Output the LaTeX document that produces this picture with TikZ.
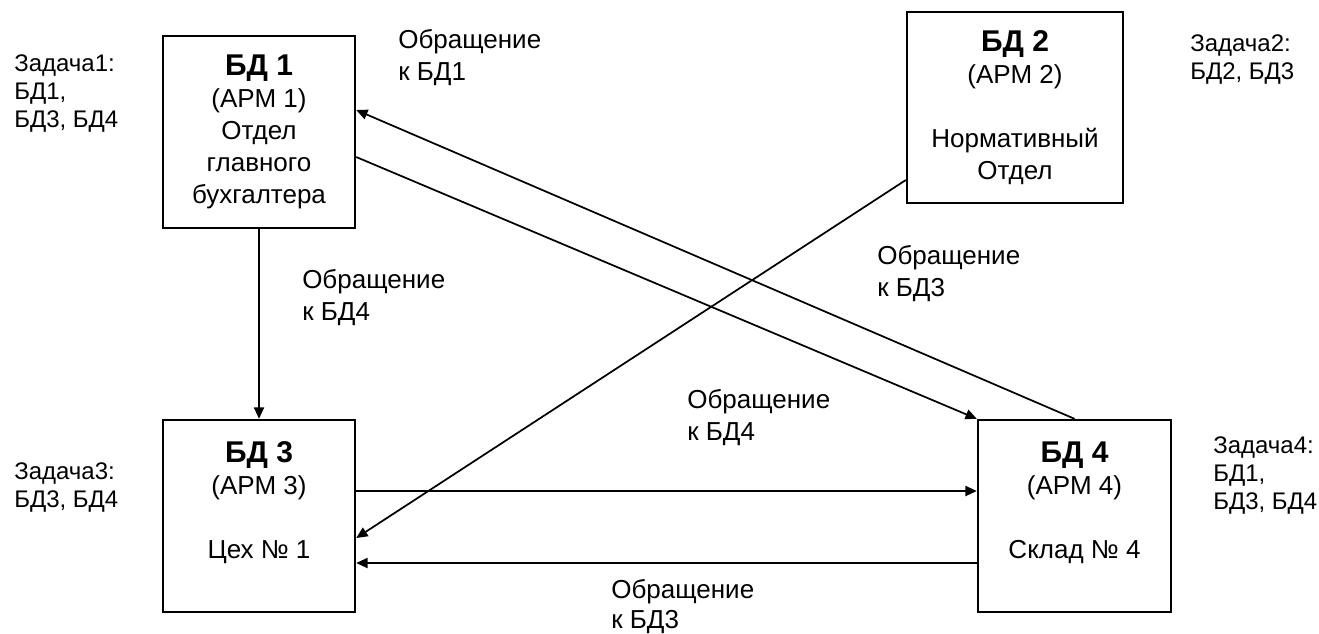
\documentclass[tikz,border=0pt]{standalone}
\usepackage{fontspec}
\setmainfont{Liberation Sans}
\usetikzlibrary{arrows.meta}
\newcommand\dbtitle[1]{{\fontsize{22.5}{24}\selectfont\bfseries #1}}
\begin{document}
\begin{tikzpicture}[x=0.75pt,y=-0.75pt,
  dbbox/.style={draw, line width=1.8pt, inner sep=0pt, align=center,
    font=\fontsize{19.5}{24}\selectfont},
  note/.style={inner sep=0pt, align=left, anchor=north west,
    font=\fontsize{18}{21}\selectfont},
  reqlabel/.style={inner sep=0pt, align=left, anchor=north west,
    font=\fontsize{19.5}{24}\selectfont},
  link/.style={line width=1.3pt, -{Triangle[length=8.5pt,width=7.5pt]}}
]
\useasboundingbox (0,0) rectangle (1319,633);

% databases / workstations
\node[dbbox, minimum width=144pt, minimum height=144pt] (b1) at (259,132)
  {\dbtitle{БД 1}\\(АРМ 1)\\Отдел\\главного\\бухгалтера};
\node[dbbox, minimum width=162pt, minimum height=143.25pt] (b2) at (1015,107.5)
  {\dbtitle{БД 2}\\(АРМ 2)\\~\\Нормативный\\Отдел};
\node[dbbox, minimum width=144pt, minimum height=144pt] (b3) at (259,516)
  {\dbtitle{БД 3}\\(АРМ 3)\\~\\Цех № 1\\~};
\node[dbbox, minimum width=144.75pt, minimum height=144pt] (b4) at (1074.5,516)
  {\dbtitle{БД 4}\\(АРМ 4)\\~\\Склад № 4\\~};

% tasks of each workstation
\node[note] (t1) at (14,54) {Задача1:\\БД1,\\БД3, БД4};
\node[note] (t2) at (1190,34) {Задача2:\\БД2, БД3};
\node[note] (t3) at (14,462) {Задача3:\\БД3, БД4};
\node[note] (t4) at (1213,436) {Задача4:\\БД1,\\БД3, БД4};

% requests between databases
\draw[link] (b1.south) -- (b3.north);
\draw[link] ([yshift=18.75pt]b3.east) -- ([yshift=18.75pt]b4.west);
\draw[link] ([yshift=-35.25pt]b4.west) -- ([yshift=-35.25pt]b3.east);
\draw[link] ([yshift=-18.75pt]b1.east) -- (b4.north west);
\draw[link] (b4.north) -- ([yshift=16.5pt]b1.east);
\draw[link] ([yshift=-54.4pt]b2.west) -- ([yshift=-16.5pt]b3.east);

% request labels
\node[reqlabel] (r1) at (398,29) {Обращение\\к БД1};
\node[reqlabel] (r2) at (302,269) {Обращение\\к БД4};
\node[reqlabel] (r3) at (877,245) {Обращение\\к БД3};
\node[reqlabel] (r4) at (687,389) {Обращение\\к БД4};
\node[reqlabel, font=\fontsize{19.5}{22.5}\selectfont] (r5) at (611,579)
  {Обращение\\к БД3};
\end{tikzpicture}
\end{document}
